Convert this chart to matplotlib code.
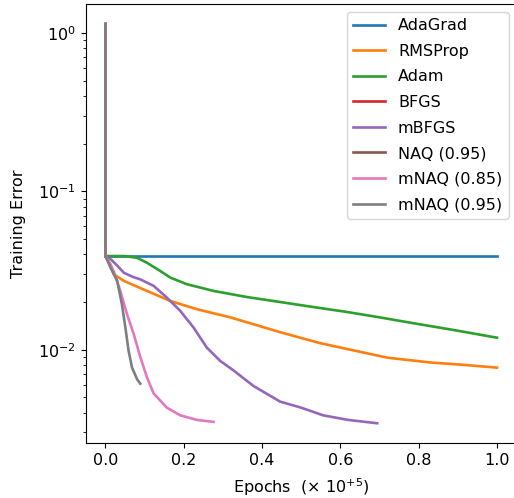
import matplotlib
matplotlib.use('Agg')
import matplotlib.pyplot as plt

plt.rcParams['font.size'] = 11.5
plt.rcParams['lines.linewidth'] = 1.9

# epochs in units of 1e5, training error (log scale)
start_err = 1.14

adagrad_x = [0.0, 0.0, 1.0]
adagrad_y = [start_err, 0.039, 0.039]

rmsprop_x = [0.0, 0.0, 0.013, 0.021, 0.047, 0.106, 0.166, 0.234, 0.319, 0.446,
             0.548, 0.617, 0.72, 0.83, 0.92, 1.0]
rmsprop_y = [start_err, 0.039, 0.0346, 0.030, 0.0272, 0.0235, 0.0203, 0.018, 0.016, 0.0129,
             0.0110, 0.0101, 0.0089, 0.0083, 0.0080, 0.0077]

adam_x = [0.0, 0.0, 0.05, 0.081, 0.106, 0.14, 0.166, 0.208, 0.276, 0.361, 0.446,
          0.53, 0.617, 0.70, 0.786, 0.89, 1.0]
adam_y = [start_err, 0.039, 0.039, 0.038, 0.0354, 0.0314, 0.0285, 0.0259, 0.0235, 0.0215, 0.0200,
          0.0186, 0.0173, 0.016, 0.0147, 0.0133, 0.0119]

bfgs_x = [0.0, 0.0]
bfgs_y = [start_err, 0.039]

mbfgs_x = [0.0, 0.0, 0.015, 0.03, 0.047, 0.07, 0.089, 0.123, 0.157, 0.191, 0.225, 0.259, 0.293,
           0.327, 0.378, 0.446, 0.50, 0.556, 0.62, 0.694]
mbfgs_y = [start_err, 0.039, 0.037, 0.0340, 0.0306, 0.0288, 0.0278, 0.0253, 0.0213, 0.0176, 0.0138,
           0.0103, 0.0085, 0.0074, 0.0059, 0.0047, 0.0043, 0.00385, 0.0036, 0.00343]

naq_x = [0.0, 0.0]
naq_y = [start_err, 0.039]

mnaq85_x = [0.0, 0.0, 0.021, 0.038, 0.055, 0.072, 0.089, 0.106, 0.123, 0.157, 0.191, 0.234, 0.276]
mnaq85_y = [start_err, 0.039, 0.0314, 0.0235, 0.0168, 0.0126, 0.0090, 0.0067, 0.0053, 0.0043,
            0.00385, 0.0036, 0.0035]

mnaq95_x = [0.0, 0.0, 0.013, 0.030, 0.042, 0.051, 0.059, 0.068, 0.081, 0.089]
mnaq95_y = [start_err, 0.039, 0.033, 0.0272, 0.0194, 0.0138, 0.0099, 0.0077, 0.0065, 0.0061]

fig = plt.figure(figsize=(5.14, 4.98), dpi=100)
ax = fig.add_axes([0.167, 0.110, 0.838, 0.882])

ax.plot(adagrad_x, adagrad_y, label='AdaGrad')
ax.plot(rmsprop_x, rmsprop_y, label='RMSProp')
ax.plot(adam_x, adam_y, label='Adam')
ax.plot(bfgs_x, bfgs_y, label='BFGS')
ax.plot(mbfgs_x, mbfgs_y, label='mBFGS')
ax.plot(naq_x, naq_y, label='NAQ (0.95)')
ax.plot(mnaq85_x, mnaq85_y, label='mNAQ (0.85)')
ax.plot(mnaq95_x, mnaq95_y, label='mNAQ (0.95)')

ax.set_yscale('log')
ax.set_xlabel(r'Epochs  $(\times\ 10^{+5})$', labelpad=6)
ax.set_ylabel('Training Error', labelpad=9)
ax.legend(loc='upper right', labelspacing=0.66)

fig.savefig('out.png', dpi=100)
